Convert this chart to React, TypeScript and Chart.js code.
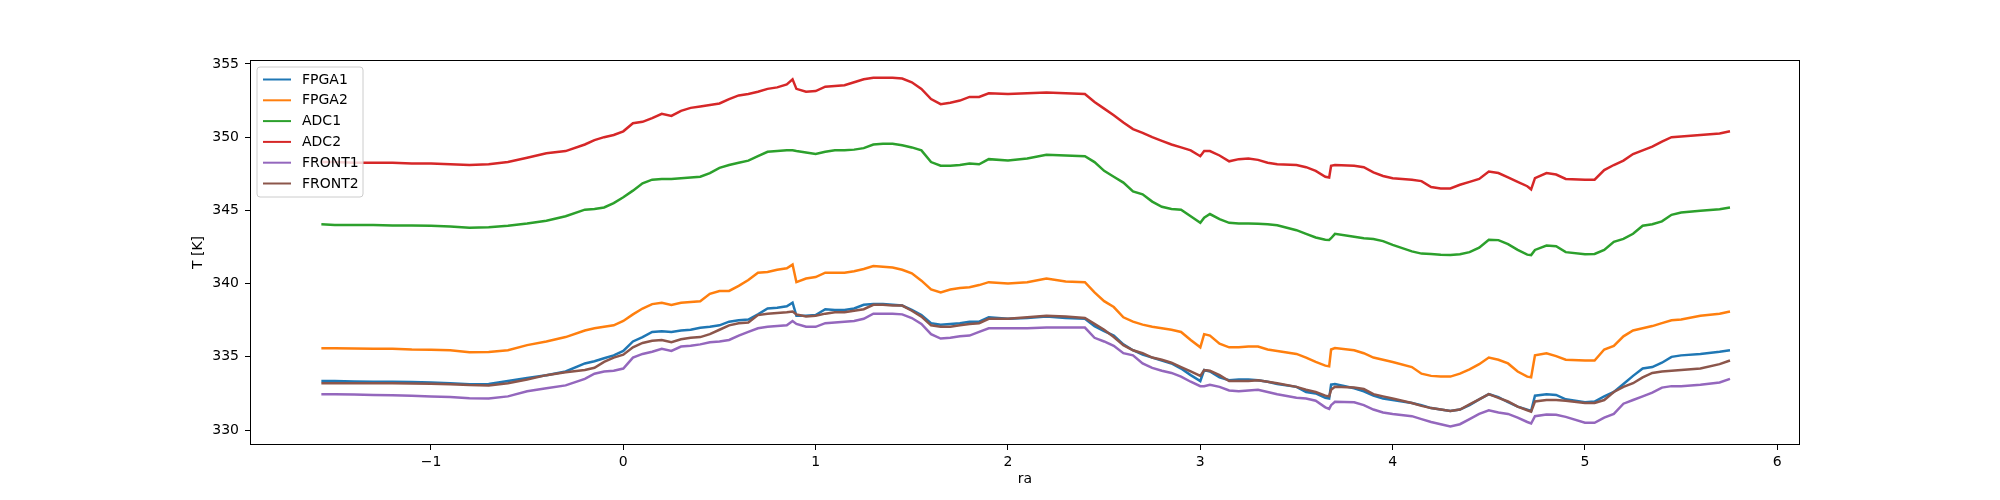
import React, { useEffect, useRef } from 'react';
import { Chart, registerables } from 'chart.js';

Chart.register(...registerables);

// ---------- data ----------
const RA = [
  -1.57, -1.5, -1.4, -1.3, -1.2, -1.1, -1.0, -0.9, -0.8, -0.7,
  -0.6, -0.5, -0.4, -0.3, -0.2, -0.15, -0.1, -0.05, 0, 0.05,
  0.1, 0.15, 0.2, 0.25, 0.3, 0.35, 0.4, 0.45, 0.5, 0.55,
  0.6, 0.65, 0.7, 0.75, 0.8, 0.85, 0.88, 0.9, 0.95, 1.0,
  1.05, 1.1, 1.15, 1.2, 1.25, 1.3, 1.35, 1.4, 1.45, 1.5,
  1.55, 1.6, 1.65, 1.7, 1.75, 1.8, 1.85, 1.9, 2.0, 2.1,
  2.2, 2.3, 2.4, 2.45, 2.5, 2.55, 2.6, 2.65, 2.7, 2.75,
  2.8, 2.85, 2.9, 2.95, 3.0, 3.02, 3.05, 3.1, 3.15, 3.2,
  3.25, 3.3, 3.35, 3.4, 3.5, 3.55, 3.6, 3.65, 3.67, 3.68,
  3.7, 3.8, 3.85, 3.9, 3.95, 4.0, 4.1, 4.15, 4.2, 4.25,
  4.3, 4.35, 4.4, 4.45, 4.5, 4.55, 4.6, 4.65, 4.7, 4.72,
  4.74, 4.8, 4.85, 4.9, 5.0, 5.05, 5.1, 5.15, 5.2, 5.25,
  5.3, 5.35, 5.4, 5.45, 5.5, 5.6, 5.7, 5.754,
];

const FPGA1 = [
  333.35, 333.35, 333.32, 333.3, 333.3, 333.28, 333.25, 333.2, 333.13, 333.15,
  333.35, 333.55, 333.75, 334.0, 334.55, 334.7, 334.9, 335.1, 335.4, 336.05,
  336.35, 336.7, 336.75, 336.7, 336.8, 336.85, 336.98, 337.05, 337.15, 337.4,
  337.5, 337.55, 337.9, 338.3, 338.35, 338.45, 338.7, 337.8, 337.8, 337.85,
  338.25, 338.2, 338.2, 338.3, 338.55, 338.6, 338.6, 338.55, 338.5, 338.2,
  337.85, 337.3, 337.2, 337.25, 337.3, 337.4, 337.4, 337.7, 337.6, 337.65,
  337.75, 337.65, 337.6, 337.1, 336.75, 336.45, 335.85, 335.45, 335.15, 334.95,
  334.75, 334.55, 334.2, 333.75, 333.35, 334.1, 334.0, 333.6, 333.4, 333.45,
  333.45, 333.4, 333.3, 333.15, 332.95, 332.6, 332.5, 332.2, 332.15, 333.1,
  333.15, 332.85, 332.65, 332.35, 332.15, 332.05, 331.85, 331.7, 331.5, 331.4,
  331.3, 331.4, 331.7, 332.1, 332.45, 332.25, 331.9, 331.6, 331.4, 331.3,
  332.35, 332.45, 332.4, 332.1, 331.9, 331.95, 332.3, 332.6, 333.15, 333.7,
  334.2, 334.3, 334.6, 335.0, 335.1, 335.2, 335.35, 335.45,
];

const FPGA2 = [
  335.58, 335.58, 335.57, 335.55, 335.55, 335.5, 335.48, 335.45, 335.32, 335.33,
  335.45, 335.8, 336.05, 336.35, 336.8, 336.95, 337.05, 337.15, 337.45, 337.9,
  338.3, 338.6, 338.7, 338.55, 338.7, 338.75, 338.8, 339.3, 339.5, 339.5,
  339.85, 340.25, 340.75, 340.8, 340.95, 341.05, 341.3, 340.1, 340.35, 340.45,
  340.75, 340.75, 340.75, 340.85, 341.0, 341.2, 341.15, 341.1, 340.95, 340.7,
  340.2, 339.6, 339.4, 339.6, 339.7, 339.75, 339.9, 340.1, 340.0, 340.1,
  340.35, 340.15, 340.1, 339.4, 338.8, 338.4, 337.7, 337.4, 337.2, 337.05,
  336.95, 336.85, 336.7, 336.15, 335.65, 336.55, 336.45, 335.9, 335.65, 335.65,
  335.7, 335.7, 335.5, 335.4, 335.2, 334.95, 334.65, 334.4, 334.35, 335.5,
  335.6, 335.45, 335.25, 334.95, 334.8, 334.65, 334.3, 333.85, 333.7, 333.65,
  333.65, 333.85, 334.15, 334.5, 334.95, 334.8, 334.55, 334.0, 333.65, 333.6,
  335.1, 335.25, 335.05, 334.8, 334.75, 334.75, 335.5, 335.75, 336.4, 336.8,
  336.95, 337.1, 337.3, 337.5, 337.55, 337.8, 337.95, 338.1,
];

const ADC1 = [
  344.05, 344.0, 344.0, 344.0, 343.97, 343.97, 343.95, 343.9, 343.82, 343.85,
  343.95, 344.1, 344.3, 344.6, 345.05, 345.1, 345.2, 345.5, 345.9, 346.35,
  346.85, 347.1, 347.15, 347.15, 347.2, 347.25, 347.3, 347.55, 347.9, 348.1,
  348.25, 348.4, 348.7, 349.0, 349.05, 349.1, 349.1, 349.05, 348.95, 348.85,
  349.0, 349.1, 349.1, 349.15, 349.25, 349.5, 349.55, 349.55, 349.45, 349.3,
  349.1, 348.3, 348.05, 348.05, 348.1, 348.2, 348.15, 348.5, 348.4, 348.55,
  348.8, 348.75, 348.7, 348.3, 347.7, 347.3, 346.9, 346.3, 346.1, 345.6,
  345.25, 345.1, 345.05, 344.6, 344.15, 344.5, 344.75, 344.4, 344.15, 344.1,
  344.1, 344.08, 344.05, 343.98, 343.65, 343.4, 343.15, 343.0, 342.98, 343.1,
  343.4, 343.2, 343.1, 343.05, 342.9, 342.65, 342.2, 342.05, 342.03, 341.97,
  341.95, 342.0, 342.15, 342.45, 343.0, 342.97, 342.7, 342.3, 341.98, 341.95,
  342.3, 342.6, 342.55, 342.15, 342.0, 342.03, 342.3, 342.85, 343.05, 343.4,
  343.95, 344.05, 344.25, 344.7, 344.85, 344.98, 345.08, 345.2,
];

const ADC2 = [
  348.3, 348.3, 348.25, 348.25, 348.25, 348.2, 348.2, 348.15, 348.1, 348.15,
  348.3, 348.6, 348.9, 349.05, 349.5, 349.8, 350.0, 350.15, 350.4, 350.95,
  351.05, 351.3, 351.6, 351.45, 351.8, 352.0, 352.1, 352.2, 352.3, 352.6,
  352.85, 352.95, 353.1, 353.3, 353.4, 353.6, 353.95, 353.3, 353.1, 353.15,
  353.45, 353.5, 353.55, 353.75, 353.95, 354.05, 354.05, 354.05, 354.0, 353.75,
  353.3, 352.6, 352.25, 352.35, 352.5, 352.75, 352.75, 353.0, 352.95, 353.0,
  353.05, 353.0, 352.95, 352.4, 351.95, 351.5, 351.0, 350.55, 350.3, 350.0,
  349.75, 349.5, 349.3, 349.1, 348.7, 349.05, 349.05, 348.75, 348.35, 348.5,
  348.55, 348.45, 348.25, 348.15, 348.1, 347.95, 347.7, 347.3, 347.25, 348.05,
  348.1, 348.05, 347.95, 347.6, 347.35, 347.2, 347.1, 347.0, 346.6, 346.5,
  346.5, 346.75, 346.95, 347.15, 347.65, 347.55, 347.25, 346.95, 346.65, 346.44,
  347.2, 347.55, 347.45, 347.15, 347.1, 347.1, 347.75, 348.1, 348.4, 348.85,
  349.1, 349.35, 349.7, 350.0, 350.05, 350.15, 350.25, 350.4,
];

const FRONT1 = [
  332.45, 332.45, 332.42, 332.4, 332.38, 332.35, 332.3, 332.25, 332.17, 332.15,
  332.3, 332.65, 332.85, 333.05, 333.5, 333.85, 334.0, 334.05, 334.2, 334.95,
  335.2, 335.35, 335.55, 335.4, 335.7, 335.75, 335.85, 336.0, 336.05, 336.15,
  336.45, 336.7, 336.95, 337.05, 337.1, 337.15, 337.45, 337.25, 337.05, 337.05,
  337.3, 337.35, 337.4, 337.45, 337.6, 337.95, 337.95, 337.95, 337.9, 337.65,
  337.25, 336.55, 336.25, 336.3, 336.4, 336.45, 336.7, 336.95, 336.95, 336.95,
  337.0, 337.0, 337.0, 336.3, 336.05, 335.75, 335.25, 335.1, 334.55, 334.25,
  334.05, 333.9, 333.65, 333.3, 333.0, 333.0, 333.1, 332.95, 332.7, 332.65,
  332.7, 332.75, 332.6, 332.45, 332.2, 332.15, 332.0, 331.55, 331.45, 331.7,
  331.93, 331.9, 331.7, 331.4, 331.2, 331.1, 330.95, 330.75, 330.55, 330.4,
  330.25, 330.4, 330.75, 331.1, 331.35, 331.2, 331.1, 330.85, 330.55, 330.45,
  330.95, 331.07, 331.05, 330.9, 330.5, 330.5, 330.85, 331.1, 331.8, 332.05,
  332.3, 332.55, 332.9, 333.0, 333.0, 333.1, 333.25, 333.5,
];

const FRONT2 = [
  333.2, 333.2, 333.2, 333.2, 333.2, 333.18, 333.17, 333.12, 333.07, 333.05,
  333.2, 333.45, 333.75, 333.95, 334.1, 334.25, 334.65, 334.95, 335.15, 335.65,
  335.95, 336.1, 336.15, 336.0, 336.2, 336.3, 336.35, 336.55, 336.85, 337.15,
  337.3, 337.35, 337.85, 337.95, 338.0, 338.05, 338.1, 337.9, 337.75, 337.8,
  337.95, 338.05, 338.05, 338.15, 338.25, 338.55, 338.55, 338.5, 338.5, 338.15,
  337.75, 337.15, 337.05, 337.05, 337.15, 337.25, 337.3, 337.6, 337.6, 337.7,
  337.8, 337.75, 337.65, 337.25, 336.85, 336.35, 335.8, 335.45, 335.25, 334.95,
  334.8, 334.6, 334.3, 334.0, 333.7, 334.1, 334.05, 333.75, 333.35, 333.35,
  333.35, 333.4, 333.3, 333.2, 332.95, 332.75, 332.6, 332.35, 332.3, 332.75,
  332.95, 332.9, 332.8, 332.45, 332.3, 332.15, 331.85, 331.65, 331.5, 331.4,
  331.3, 331.4, 331.75, 332.1, 332.45, 332.2, 331.95, 331.6, 331.35, 331.25,
  331.95, 332.05, 332.05, 332.0, 331.85, 331.85, 332.05, 332.6, 332.95, 333.2,
  333.6, 333.9, 334.0, 334.05, 334.1, 334.2, 334.5, 334.75,
];

const SERIES_NAMES = ['FPGA1', 'FPGA2', 'ADC1', 'ADC2', 'FRONT1', 'FRONT2'];
const SERIES_VALUES = [FPGA1, FPGA2, ADC1, ADC2, FRONT1, FRONT2];
const SERIES_COLORS = ['#1f77b4', '#ff7f0e', '#2ca02c', '#d62728', '#9467bd', '#8c564b'];
const X_TICKS = [-1, 0, 1, 2, 3, 4, 5, 6];
const Y_TICKS = [330, 335, 340, 345, 350, 355];
const X_LABEL = 'ra';
const Y_LABEL = 'T [K]';

const FONT_FAMILY = "'DejaVu Sans', sans-serif";

const fmtTick = (v: number) => (v < 0 ? '\u2212' + Math.abs(v) : String(v));

const framePlugin = {
  id: 'frameAndLegend',
  afterDraw(chart: any) {
    const { ctx, chartArea: a } = chart;
    ctx.save();
    // axes frame
    ctx.strokeStyle = '#000';
    ctx.lineWidth = 1;
    ctx.strokeRect(Math.round(a.left) + 0.5, Math.round(a.top) + 0.5,
      Math.round(a.right - a.left) - 1, Math.round(a.bottom - a.top) - 1);

    // legend (upper left, inside axes)
    const bx = a.left + 7;
    const by = a.top + 7;
    const bw = 106;
    const bh = 130;
    const r = 3;
    ctx.beginPath();
    ctx.moveTo(bx + r, by);
    ctx.lineTo(bx + bw - r, by);
    ctx.arcTo(bx + bw, by, bx + bw, by + r, r);
    ctx.lineTo(bx + bw, by + bh - r);
    ctx.arcTo(bx + bw, by + bh, bx + bw - r, by + bh, r);
    ctx.lineTo(bx + r, by + bh);
    ctx.arcTo(bx, by + bh, bx, by + bh - r, r);
    ctx.lineTo(bx, by + r);
    ctx.arcTo(bx, by, bx + r, by, r);
    ctx.closePath();
    ctx.fillStyle = 'rgba(255,255,255,0.8)';
    ctx.fill();
    ctx.strokeStyle = '#cccccc';
    ctx.lineWidth = 1;
    ctx.stroke();

    ctx.font = `14px ${FONT_FAMILY}`;
    ctx.textBaseline = 'middle';
    ctx.textAlign = 'left';
    SERIES_NAMES.forEach((name, i) => {
      const y = by + 12.5 + i * 20.8;
      ctx.strokeStyle = SERIES_COLORS[i];
      ctx.lineWidth = 2;
      ctx.beginPath();
      ctx.moveTo(bx + 6, y);
      ctx.lineTo(bx + 34, y);
      ctx.stroke();
      ctx.fillStyle = '#000';
      ctx.fillText(name, bx + 45, y + 0.5);
    });
    ctx.restore();
  },
};

export default function App() {
  const ref = useRef<HTMLCanvasElement | null>(null);

  useEffect(() => {
    if (!ref.current) return;
    const datasets = SERIES_NAMES.map((name, i) => ({
      label: name,
      data: RA.map((x, j) => ({ x, y: SERIES_VALUES[i][j] })),
      borderColor: SERIES_COLORS[i],
      backgroundColor: SERIES_COLORS[i],
      borderWidth: 2.5,
      pointRadius: 0,
      fill: false,
      tension: 0,
      order: SERIES_NAMES.length - i,
    }));

    const tickFont = { family: FONT_FAMILY, size: 14 };

    const chart = new Chart(ref.current, {
      type: 'line',
      data: { datasets },
      options: {
        responsive: false,
        animation: false,
        devicePixelRatio: 1,
        layout: { padding: { left: 0, top: 60, right: 200, bottom: 0 } },
        plugins: { legend: { display: false }, tooltip: { enabled: false } },
        scales: {
          x: {
            type: 'linear',
            min: -1.941,
            max: 6.118,
            afterBuildTicks: (s: any) => { s.ticks = X_TICKS.map((v) => ({ value: v })); },
            afterFit: (s: any) => { s.height = 55; },
            ticks: {
              autoSkip: false,
              maxRotation: 0,
              padding: 4,
              color: '#000',
              font: tickFont,
              callback: (v: any) => fmtTick(Number(v)),
            },
            grid: { display: true, drawOnChartArea: false, drawTicks: true, tickLength: 5, color: '#000', lineWidth: 1 },
            border: { display: false },
            title: { display: true, text: X_LABEL, color: '#000', font: tickFont, padding: { top: 0, bottom: 12 } },
          },
          y: {
            type: 'linear',
            min: 328.98,
            max: 355.27,
            afterBuildTicks: (s: any) => { s.ticks = Y_TICKS.map((v) => ({ value: v })); },
            afterFit: (s: any) => { s.width = 250; },
            ticks: {
              autoSkip: false,
              padding: 6,
              color: '#000',
              font: tickFont,
              callback: (v: any) => fmtTick(Number(v)),
            },
            grid: { display: true, drawOnChartArea: false, drawTicks: true, tickLength: 5, color: '#000', lineWidth: 1 },
            border: { display: false },
            title: { display: true, text: Y_LABEL, color: '#000', font: tickFont, padding: { top: 190, bottom: 0 } },
          },
        },
      },
      plugins: [framePlugin],
    } as any);

    return () => chart.destroy();
  }, []);

  return (
    <div style={{ position: 'absolute', left: 0, top: 0, width: 2000, height: 500, background: '#fff' }}>
      <canvas ref={ref} width={2000} height={500} style={{ display: 'block', width: 2000, height: 500 }} />
    </div>
  );
}
